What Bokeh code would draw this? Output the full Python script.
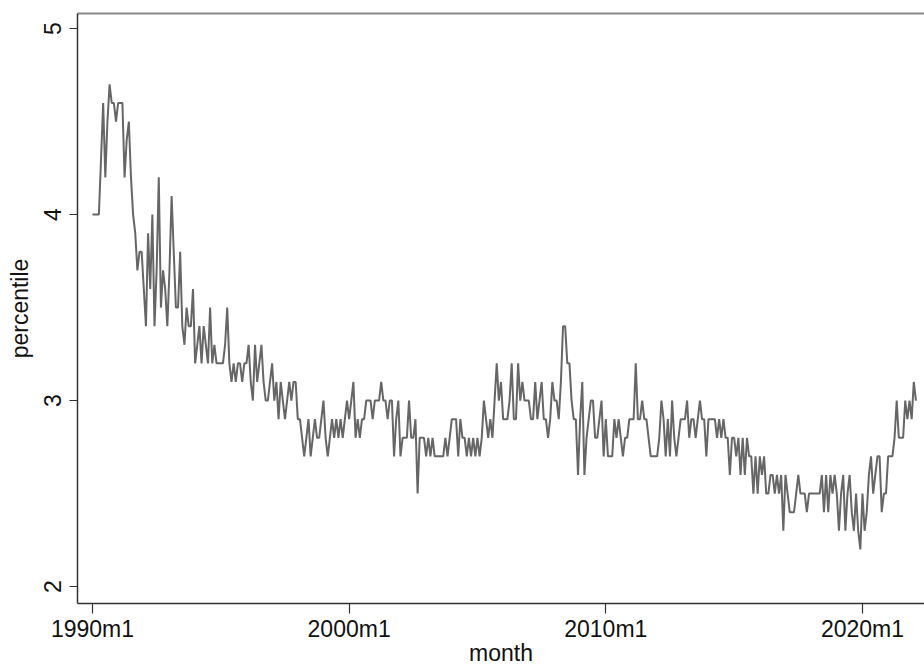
from bokeh.plotting import figure
from bokeh.models import Range1d, FixedTicker, LinearAxis
from bokeh.embed import file_html
from bokeh.resources import INLINE

# Monthly percentile values, one list per calendar year (Jan..Dec)
y1990 = [4.0, 4.0, 4.0, 4.0, 4.3, 4.6, 4.2, 4.5, 4.7, 4.6, 4.6, 4.5]
y1991 = [4.6, 4.6, 4.6, 4.2, 4.4, 4.5, 4.2, 4.0, 3.9, 3.7, 3.8, 3.8]
y1992 = [3.6, 3.4, 3.9, 3.6, 4.0, 3.4, 3.7, 4.2, 3.5, 3.7, 3.6, 3.4]
y1993 = [3.7, 4.1, 3.8, 3.5, 3.5, 3.8, 3.4, 3.3, 3.5, 3.4, 3.4, 3.6]
y1994 = [3.2, 3.3, 3.4, 3.2, 3.4, 3.3, 3.2, 3.5, 3.2, 3.3, 3.2, 3.2]
y1995 = [3.2, 3.2, 3.3, 3.5, 3.2, 3.1, 3.2, 3.1, 3.2, 3.2, 3.1, 3.2]
y1996 = [3.2, 3.3, 3.1, 3.0, 3.3, 3.1, 3.2, 3.3, 3.1, 3.0, 3.0, 3.1]
y1997 = [3.2, 3.0, 3.1, 2.9, 3.1, 3.0, 2.9, 3.0, 3.1, 3.0, 3.1, 3.1]
y1998 = [2.9, 2.9, 2.8, 2.7, 2.8, 2.9, 2.7, 2.8, 2.9, 2.8, 2.8, 2.9]
y1999 = [3.0, 2.8, 2.7, 2.8, 2.9, 2.8, 2.9, 2.8, 2.9, 2.8, 2.9, 3.0]
y2000 = [2.9, 3.0, 3.1, 2.8, 2.9, 2.8, 2.9, 2.9, 3.0, 3.0, 3.0, 2.9]
y2001 = [3.0, 3.0, 3.0, 3.1, 3.0, 3.0, 2.9, 3.0, 3.0, 2.7, 2.9, 3.0]
y2002 = [2.7, 2.8, 2.8, 2.8, 3.0, 2.8, 2.8, 2.9, 2.5, 2.8, 2.8, 2.8]
y2003 = [2.7, 2.8, 2.7, 2.8, 2.7, 2.7, 2.7, 2.7, 2.7, 2.8, 2.7, 2.8]
y2004 = [2.9, 2.9, 2.9, 2.7, 2.9, 2.8, 2.8, 2.7, 2.8, 2.7, 2.8, 2.7]
y2005 = [2.8, 2.7, 2.8, 3.0, 2.9, 2.8, 2.9, 2.8, 3.0, 3.2, 3.0, 3.1]
y2006 = [2.9, 2.9, 2.9, 3.0, 3.2, 2.9, 2.9, 3.2, 3.0, 3.1, 3.0, 3.0]
y2007 = [3.0, 2.9, 2.9, 3.1, 2.9, 3.0, 3.1, 2.9, 2.9, 2.8, 2.9, 3.1]
y2008 = [3.0, 3.0, 2.9, 3.1, 3.4, 3.4, 3.2, 3.2, 3.0, 2.9, 2.9, 2.6]
y2009 = [2.9, 3.1, 2.6, 2.8, 2.9, 3.0, 3.0, 2.8, 2.8, 2.9, 3.0, 2.7]
y2010 = [2.9, 2.7, 2.7, 2.7, 2.9, 2.8, 2.9, 2.8, 2.7, 2.8, 2.8, 2.9]
y2011 = [2.9, 2.9, 3.2, 2.9, 2.9, 3.0, 2.9, 2.9, 2.8, 2.7, 2.7, 2.7]
y2012 = [2.7, 2.8, 3.0, 2.9, 2.7, 2.9, 2.7, 3.0, 2.8, 2.7, 2.8, 2.9]
y2013 = [2.9, 2.9, 3.0, 2.8, 2.9, 2.9, 2.8, 2.9, 3.0, 2.9, 2.9, 2.7]
y2014 = [2.9, 2.9, 2.9, 2.9, 2.8, 2.9, 2.8, 2.9, 2.8, 2.8, 2.6, 2.8]
y2015 = [2.8, 2.7, 2.8, 2.6, 2.8, 2.6, 2.8, 2.7, 2.7, 2.5, 2.7, 2.5]
y2016 = [2.7, 2.6, 2.7, 2.5, 2.5, 2.6, 2.6, 2.5, 2.6, 2.5, 2.6, 2.3]
y2017 = [2.6, 2.5, 2.4, 2.4, 2.4, 2.5, 2.6, 2.5, 2.5, 2.5, 2.4, 2.5]
y2018 = [2.5, 2.5, 2.5, 2.5, 2.5, 2.6, 2.4, 2.6, 2.4, 2.6, 2.5, 2.6]
y2019 = [2.5, 2.3, 2.5, 2.6, 2.3, 2.5, 2.6, 2.4, 2.3, 2.5, 2.3, 2.2]
y2020 = [2.5, 2.3, 2.4, 2.6, 2.7, 2.5, 2.6, 2.7, 2.7, 2.4, 2.5, 2.5]
y2021 = [2.7, 2.7, 2.7, 2.8, 3.0, 2.8, 2.8, 2.8, 3.0, 2.9, 3.0, 2.9]
y2022 = [3.1, 3.0]

# x tick positions in Stata monthly units (1990m1 = 360) and their labels
tick_months = [360, 480, 600, 720]
tick_labels = ["1990m1", "2000m1", "2010m1", "2020m1"]
y_ticks = [2, 3, 4, 5]

years = [y1990, y1991, y1992, y1993, y1994, y1995, y1996, y1997, y1998,
         y1999, y2000, y2001, y2002, y2003, y2004, y2005, y2006, y2007,
         y2008, y2009, y2010, y2011, y2012, y2013, y2014, y2015, y2016,
         y2017, y2018, y2019, y2020, y2021, y2022]
percentile = [v for yr in years for v in yr]
month = [360 + i for i in range(len(percentile))]

FONT = "Liberation Sans"
FSIZE = "23px"

p = figure(width=924, height=668, output_backend="svg", toolbar_location=None,
           x_range=Range1d(353, 749), y_range=Range1d(1.909, 5.081),
           min_border_left=77, min_border_right=0, min_border_top=13,
           min_border_bottom=65, background_fill_color="white",
           border_fill_color="white")
p.outline_line_color = None
p.grid.grid_line_color = None

p.line(month, percentile, line_color="#666666", line_width=2)

# x axis
xa = p.xaxis[0]
xa.ticker = FixedTicker(ticks=tick_months)
xa.major_label_overrides = {m: s for m, s in zip(tick_months, tick_labels)}
xa.axis_label = "month"
xa.major_tick_out = 10
xa.major_tick_in = 0
xa.minor_tick_line_color = None
xa.major_label_standoff = 2
xa.axis_label_standoff = -5

# y axis
ya = p.yaxis[0]
ya.ticker = FixedTicker(ticks=y_ticks)
ya.axis_label = "percentile"
ya.major_label_orientation = "parallel"
ya.major_tick_out = 8
ya.major_tick_in = 0
ya.minor_tick_line_color = None
ya.major_label_standoff = 8
ya.axis_label_standoff = 9

for ax in (xa, ya):
    ax.axis_line_color = "#333333"
    ax.axis_line_width = 1.5
    ax.major_tick_line_color = "#333333"
    ax.major_tick_line_width = 1.2
    ax.major_label_text_font = FONT
    ax.major_label_text_font_size = FSIZE
    ax.major_label_text_color = "#111111"
    ax.axis_label_text_font = FONT
    ax.axis_label_text_font_size = FSIZE
    ax.axis_label_text_font_style = "normal"
    ax.axis_label_text_color = "#111111"

# plain frame line along the top of the plot region
top = LinearAxis(ticker=FixedTicker(ticks=[]), axis_line_color="#8a8a8a",
                 axis_line_width=2, major_tick_line_color=None,
                 minor_tick_line_color=None, major_label_text_font_size="0px")
p.add_layout(top, "above")

open("out.html", "w").write(file_html(p, INLINE))
